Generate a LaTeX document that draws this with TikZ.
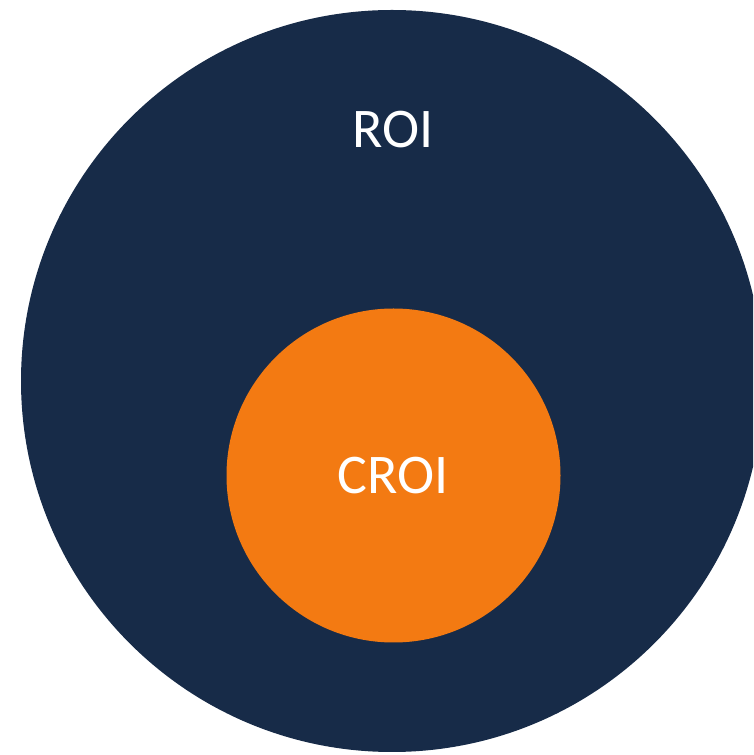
\documentclass[tikz,border=0pt]{standalone}
\usepackage{fontspec}
\setmainfont{Carlito}
\definecolor{navy}{HTML}{172B48}
\definecolor{orng}{HTML}{F37A12}
\begin{document}
\begin{tikzpicture}[x=1pt,y=1pt,
  lbl/.style={text=white,font=\fontsize{56}{62}\selectfont,inner sep=0pt,anchor=center}]
\useasboundingbox (0,0) rectangle (753,755);
\clip (0,0) rectangle (753,755);
\fill[navy] (392,374) circle[radius=371];
\fill[orng] (393.5,279.5) circle[radius=167];
\node[lbl] (roi) at (393,625) {ROI};
\node[lbl] (croi) at (393,279) {CROI};
\end{tikzpicture}
\end{document}
